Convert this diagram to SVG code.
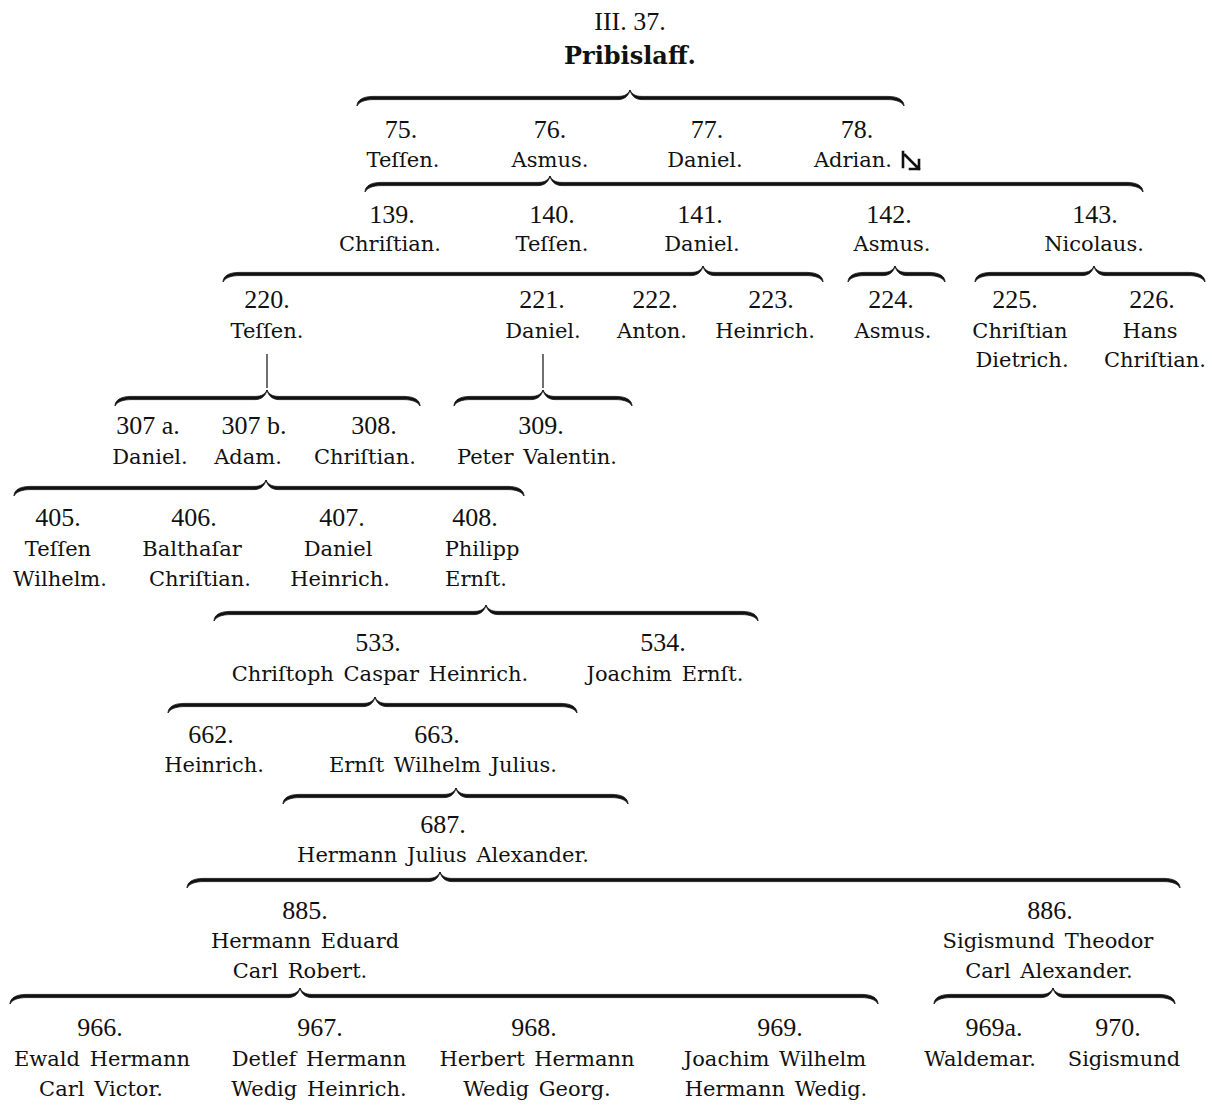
<svg xmlns="http://www.w3.org/2000/svg" width="1212" height="1120" viewBox="0 0 1212 1120">
<style>
.num{font-family:"Liberation Serif","DejaVu Serif",serif;font-size:26px;fill:#111;text-anchor:middle}
.nm{font-family:"DejaVu Serif","Liberation Serif",serif;font-size:21px;fill:#111;text-anchor:middle;word-spacing:3px}
.bold{font-weight:bold;font-size:24px}
.brace{fill:#111;stroke:#111;stroke-width:0.8;stroke-linejoin:round}
.stem{stroke:#222;stroke-width:1.3;fill:none}
.arrow{stroke:#111;stroke-width:2.6;fill:none;stroke-linecap:square}
</style>
<rect width="1212" height="1120" fill="#fff"/>
<g id="connectors">
<path class="brace" d="M357,106 c0,-6 6,-9.6 16,-9.6 h245 c7,0 10,-2.4 12,-6.4 c-1,5 -5,9.6 -12,9.6 h-245 c-8,0 -14,2.4 -16,6.4 z M904,106 c0,-6 -6,-9.6 -16,-9.6 h-246 c-7,0 -10,-2.4 -12,-6.4 c1,5 5,9.6 12,9.6 h246 c8,0 14,2.4 16,6.4 z"/>
<path class="brace" d="M365,192 c0,-6 6,-9.6 16,-9.6 h157 c7,0 10,-2.4 12,-6.4 c-1,5 -5,9.6 -12,9.6 h-157 c-8,0 -14,2.4 -16,6.4 z M1143,192 c0,-6 -6,-9.6 -16,-9.6 h-565 c-7,0 -10,-2.4 -12,-6.4 c1,5 5,9.6 12,9.6 h565 c8,0 14,2.4 16,6.4 z"/>
<path class="brace" d="M223,282 c0,-6 6,-9.6 16,-9.6 h452 c7,0 10,-2.4 12,-6.4 c-1,5 -5,9.6 -12,9.6 h-452 c-8,0 -14,2.4 -16,6.4 z M823,282 c0,-6 -6,-9.6 -16,-9.6 h-92 c-7,0 -10,-2.4 -12,-6.4 c1,5 5,9.6 12,9.6 h92 c8,0 14,2.4 16,6.4 z"/>
<path class="brace" d="M848,282 c0,-6 6,-9.6 16,-9.6 h19 c7,0 10,-2.4 12,-6.4 c-1,5 -5,9.6 -12,9.6 h-19 c-8,0 -14,2.4 -16,6.4 z M945,282 c0,-6 -6,-9.6 -16,-9.6 h-22 c-7,0 -10,-2.4 -12,-6.4 c1,5 5,9.6 12,9.6 h22 c8,0 14,2.4 16,6.4 z"/>
<path class="brace" d="M975,282 c0,-6 6,-9.6 16,-9.6 h91 c7,0 10,-2.4 12,-6.4 c-1,5 -5,9.6 -12,9.6 h-91 c-8,0 -14,2.4 -16,6.4 z M1205,282 c0,-6 -6,-9.6 -16,-9.6 h-83 c-7,0 -10,-2.4 -12,-6.4 c1,5 5,9.6 12,9.6 h83 c8,0 14,2.4 16,6.4 z"/>
<line class="stem" x1="267" y1="354" x2="267" y2="388"/>
<line class="stem" x1="543" y1="354" x2="543" y2="388"/>
<path class="brace" d="M115,406 c0,-6 6,-9.6 16,-9.6 h124 c7,0 10,-2.4 12,-6.4 c-1,5 -5,9.6 -12,9.6 h-124 c-8,0 -14,2.4 -16,6.4 z M420,406 c0,-6 -6,-9.6 -16,-9.6 h-125 c-7,0 -10,-2.4 -12,-6.4 c1,5 5,9.6 12,9.6 h125 c8,0 14,2.4 16,6.4 z"/>
<path class="brace" d="M454,406 c0,-6 6,-9.6 16,-9.6 h61 c7,0 10,-2.4 12,-6.4 c-1,5 -5,9.6 -12,9.6 h-61 c-8,0 -14,2.4 -16,6.4 z M632,406 c0,-6 -6,-9.6 -16,-9.6 h-61 c-7,0 -10,-2.4 -12,-6.4 c1,5 5,9.6 12,9.6 h61 c8,0 14,2.4 16,6.4 z"/>
<path class="brace" d="M14,496 c0,-6 6,-9.6 16,-9.6 h224 c7,0 10,-2.4 12,-6.4 c-1,5 -5,9.6 -12,9.6 h-224 c-8,0 -14,2.4 -16,6.4 z M524,496 c0,-6 -6,-9.6 -16,-9.6 h-230 c-7,0 -10,-2.4 -12,-6.4 c1,5 5,9.6 12,9.6 h230 c8,0 14,2.4 16,6.4 z"/>
<path class="brace" d="M214,621 c0,-6 6,-9.6 16,-9.6 h244 c7,0 10,-2.4 12,-6.4 c-1,5 -5,9.6 -12,9.6 h-244 c-8,0 -14,2.4 -16,6.4 z M758,621 c0,-6 -6,-9.6 -16,-9.6 h-244 c-7,0 -10,-2.4 -12,-6.4 c1,5 5,9.6 12,9.6 h244 c8,0 14,2.4 16,6.4 z"/>
<path class="brace" d="M168,713 c0,-6 6,-9.6 16,-9.6 h179 c7,0 10,-2.4 12,-6.4 c-1,5 -5,9.6 -12,9.6 h-179 c-8,0 -14,2.4 -16,6.4 z M577,713 c0,-6 -6,-9.6 -16,-9.6 h-174 c-7,0 -10,-2.4 -12,-6.4 c1,5 5,9.6 12,9.6 h174 c8,0 14,2.4 16,6.4 z"/>
<path class="brace" d="M283,804 c0,-6 6,-9.6 16,-9.6 h145 c7,0 10,-2.4 12,-6.4 c-1,5 -5,9.6 -12,9.6 h-145 c-8,0 -14,2.4 -16,6.4 z M628,804 c0,-6 -6,-9.6 -16,-9.6 h-144 c-7,0 -10,-2.4 -12,-6.4 c1,5 5,9.6 12,9.6 h144 c8,0 14,2.4 16,6.4 z"/>
<path class="brace" d="M187,888 c0,-6 6,-9.6 16,-9.6 h225 c7,0 10,-2.4 12,-6.4 c-1,5 -5,9.6 -12,9.6 h-225 c-8,0 -14,2.4 -16,6.4 z M1180,888 c0,-6 -6,-9.6 -16,-9.6 h-712 c-7,0 -10,-2.4 -12,-6.4 c1,5 5,9.6 12,9.6 h712 c8,0 14,2.4 16,6.4 z"/>
<path class="brace" d="M10,1004 c0,-6 6,-9.6 16,-9.6 h262 c7,0 10,-2.4 12,-6.4 c-1,5 -5,9.6 -12,9.6 h-262 c-8,0 -14,2.4 -16,6.4 z M878,1004 c0,-6 -6,-9.6 -16,-9.6 h-550 c-7,0 -10,-2.4 -12,-6.4 c1,5 5,9.6 12,9.6 h550 c8,0 14,2.4 16,6.4 z"/>
<path class="brace" d="M934,1004 c0,-6 6,-9.6 16,-9.6 h91 c7,0 10,-2.4 12,-6.4 c-1,5 -5,9.6 -12,9.6 h-91 c-8,0 -14,2.4 -16,6.4 z M1175,1004 c0,-6 -6,-9.6 -16,-9.6 h-94 c-7,0 -10,-2.4 -12,-6.4 c1,5 5,9.6 12,9.6 h94 c8,0 14,2.4 16,6.4 z"/>
</g>
<g id="title"><text class="num" x="630" y="30">III. 37.</text></g>
<g id="n37"><text class="nm bold" x="630" y="64">Pribislaff.</text></g>

<g id="n75"><text class="num" x="401" y="138">75.</text><text class="nm" x="403" y="167">Teſſen.</text></g>
<g id="n76"><text class="num" x="550" y="138">76.</text><text class="nm" x="550" y="167">Asmus.</text></g>
<g id="n77"><text class="num" x="707" y="138">77.</text><text class="nm" x="705" y="167">Daniel.</text></g>
<g id="n78"><text class="num" x="857" y="138">78.</text><text class="nm" x="853" y="167">Adrian.</text>
<path class="arrow" d="M903,152 V167 M905,155 L919,169 M919,160 V169 H910"/></g>

<g id="n139"><text class="num" x="392" y="223">139.</text><text class="nm" x="390" y="251">Chriſtian.</text></g>
<g id="n140"><text class="num" x="552" y="223">140.</text><text class="nm" x="552" y="251">Teſſen.</text></g>
<g id="n141"><text class="num" x="700" y="223">141.</text><text class="nm" x="702" y="251">Daniel.</text></g>
<g id="n142"><text class="num" x="889" y="223">142.</text><text class="nm" x="892" y="251">Asmus.</text></g>
<g id="n143"><text class="num" x="1095" y="223">143.</text><text class="nm" x="1094" y="251">Nicolaus.</text></g>

<g id="n220"><text class="num" x="267" y="308">220.</text><text class="nm" x="267" y="338">Teſſen.</text></g>
<g id="n221"><text class="num" x="542" y="308">221.</text><text class="nm" x="543" y="338">Daniel.</text></g>
<g id="n222"><text class="num" x="655" y="308">222.</text><text class="nm" x="652" y="338">Anton.</text></g>
<g id="n223"><text class="num" x="771" y="308">223.</text><text class="nm" x="765" y="338">Heinrich.</text></g>
<g id="n224"><text class="num" x="891" y="308">224.</text><text class="nm" x="893" y="338">Asmus.</text></g>
<g id="n225"><text class="num" x="1015" y="308">225.</text><text class="nm" x="1020" y="338">Chriſtian</text><text class="nm" x="1022" y="367">Dietrich.</text></g>
<g id="n226"><text class="num" x="1152" y="308">226.</text><text class="nm" x="1150" y="338">Hans</text><text class="nm" x="1155" y="367">Chriſtian.</text></g>

<g id="n307a"><text class="num" x="148" y="434">307 a.</text><text class="nm" x="150" y="464">Daniel.</text></g>
<g id="n307b"><text class="num" x="254" y="434">307 b.</text><text class="nm" x="248" y="464">Adam.</text></g>
<g id="n308"><text class="num" x="374" y="434">308.</text><text class="nm" x="365" y="464">Chriſtian.</text></g>
<g id="n309"><text class="num" x="541" y="434">309.</text><text class="nm" x="537" y="464">Peter Valentin.</text></g>

<g id="n405"><text class="num" x="58" y="526">405.</text><text class="nm" x="58" y="556">Teſſen</text><text class="nm" x="60" y="586">Wilhelm.</text></g>
<g id="n406"><text class="num" x="194" y="526">406.</text><text class="nm" x="192" y="556">Balthaſar</text><text class="nm" x="200" y="586">Chriſtian.</text></g>
<g id="n407"><text class="num" x="342" y="526">407.</text><text class="nm" x="338" y="556">Daniel</text><text class="nm" x="340" y="586">Heinrich.</text></g>
<g id="n408"><text class="num" x="475" y="526">408.</text><text class="nm" x="482" y="556">Philipp</text><text class="nm" x="476" y="586">Ernſt.</text></g>

<g id="n533"><text class="num" x="378" y="651">533.</text><text class="nm" x="380" y="681">Chriſtoph Caspar Heinrich.</text></g>
<g id="n534"><text class="num" x="663" y="651">534.</text><text class="nm" x="665" y="681">Joachim Ernſt.</text></g>

<g id="n662"><text class="num" x="211" y="743">662.</text><text class="nm" x="214" y="772">Heinrich.</text></g>
<g id="n663"><text class="num" x="437" y="743">663.</text><text class="nm" x="443" y="772">Ernſt Wilhelm Julius.</text></g>

<g id="n687"><text class="num" x="443" y="833">687.</text><text class="nm" x="443" y="862">Hermann Julius Alexander.</text></g>

<g id="n885"><text class="num" x="305" y="919">885.</text><text class="nm" x="305" y="948">Hermann Eduard</text><text class="nm" x="300" y="978">Carl Robert.</text></g>
<g id="n886"><text class="num" x="1050" y="919">886.</text><text class="nm" x="1048" y="948">Sigismund Theodor</text><text class="nm" x="1049" y="978">Carl Alexander.</text></g>

<g id="n966"><text class="num" x="100" y="1036">966.</text><text class="nm" x="102" y="1066">Ewald Hermann</text><text class="nm" x="101" y="1096">Carl Victor.</text></g>
<g id="n967"><text class="num" x="320" y="1036">967.</text><text class="nm" x="319" y="1066">Detlef Hermann</text><text class="nm" x="319" y="1096">Wedig Heinrich.</text></g>
<g id="n968"><text class="num" x="534" y="1036">968.</text><text class="nm" x="537" y="1066">Herbert Hermann</text><text class="nm" x="537" y="1096">Wedig Georg.</text></g>
<g id="n969"><text class="num" x="780" y="1036">969.</text><text class="nm" x="775" y="1066">Joachim Wilhelm</text><text class="nm" x="776" y="1096">Hermann Wedig.</text></g>
<g id="n969a"><text class="num" x="994" y="1036">969a.</text><text class="nm" x="980" y="1066">Waldemar.</text></g>
<g id="n970"><text class="num" x="1118" y="1036">970.</text><text class="nm" x="1124" y="1066">Sigismund</text></g>
</svg>
